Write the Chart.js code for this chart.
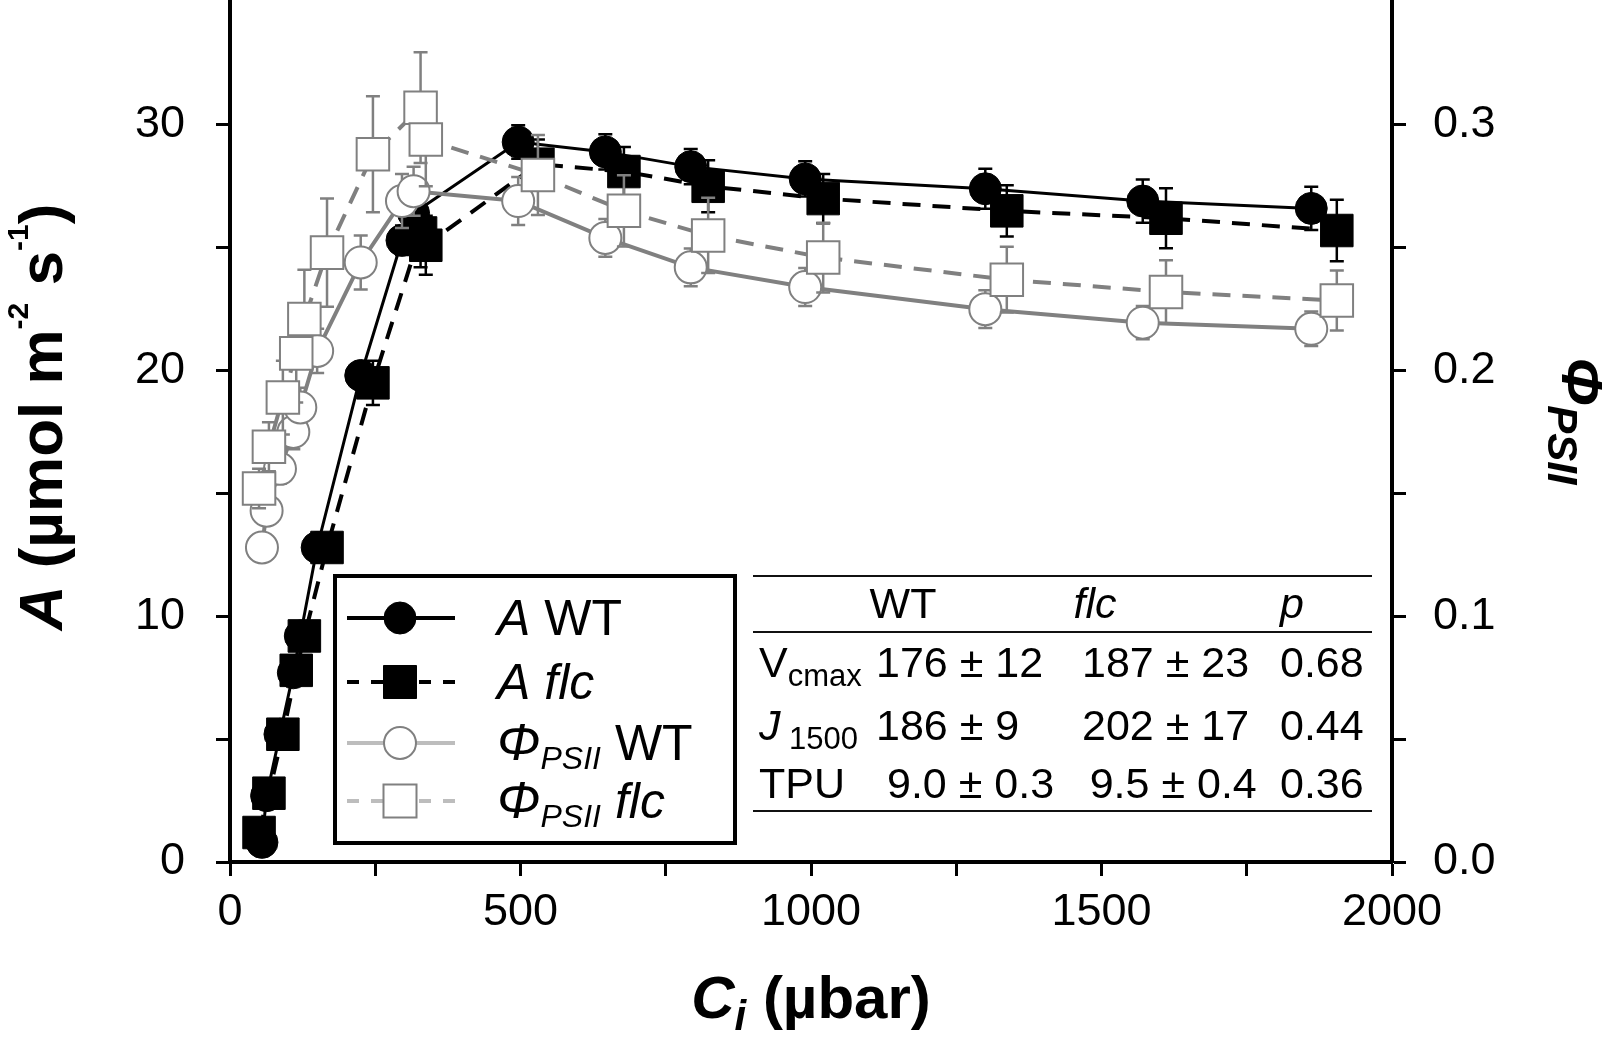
<!DOCTYPE html>
<html>
<head>
<meta charset="utf-8">
<script src="https://cdn.jsdelivr.net/npm/chart.js@4.4.1/dist/chart.umd.min.js"></script>
<style>
html,body{margin:0;padding:0;background:#fff;}
canvas{display:block;}
</style>
</head>
<body>
<canvas id="c" width="1624" height="1038"></canvas>
<script>
// ---------------- data ----------------
const ciWT   = [55, 63, 86, 109, 121, 150, 225, 296, 316, 496, 646, 793, 990, 1300, 1571, 1861];
const aWT    = [0.8, 2.7, 5.2, 7.7, 9.2, 12.8, 19.8, 25.3, 26.4, 29.3, 28.9, 28.3, 27.8, 27.4, 26.9, 26.6];
const aWTse  = [0.1, 0.2, 0.2, 0.3, 0.3, 0.3, 0.5, 0.6, 0.7, 0.68, 0.72, 0.72, 0.72, 0.81, 0.88, 0.88];
const phiWT  = [0.128, 0.143, 0.160, 0.175, 0.185, 0.208, 0.244, 0.269, 0.273, 0.269, 0.254, 0.242, 0.234, 0.225, 0.2195, 0.217];
const phiWTse= [0.005, 0.005, 0.006, 0.007, 0.008, 0.009, 0.011, 0.011, 0.010, 0.0098, 0.0077, 0.0077, 0.0077, 0.0077, 0.0068, 0.007];

const ciFLC   = [50, 67, 91, 114, 128, 167, 246, 328, 337, 530, 678, 823, 1021, 1337, 1611, 1905];
const aFLC    = [1.2, 2.8, 5.2, 7.8, 9.2, 12.8, 19.5, 25.6, 25.1, 28.4, 28.1, 27.5, 27.0, 26.5, 26.2, 25.7];
const aFLCse  = [0.2, 0.2, 0.3, 0.3, 0.4, 0.4, 0.9, 1.4, 1.2, 1.0, 1.0, 1.06, 1.0, 1.04, 1.22, 1.25];
const phiFLC  = [0.152, 0.169, 0.189, 0.207, 0.221, 0.248, 0.288, 0.307, 0.294, 0.2796, 0.265, 0.255, 0.246, 0.237, 0.232, 0.2285];
const phiFLCse= [0.008, 0.010, 0.015, 0.020, 0.020, 0.022, 0.0236, 0.0225, 0.019, 0.0163, 0.0145, 0.0153, 0.0142, 0.0134, 0.0129, 0.0122];

const seriesVar   = ['A', 'A', 'Φ', 'Φ'];
const seriesSub   = ['', '', 'PSII', 'PSII'];
const seriesGroup = ['WT', 'flc', 'WT', 'flc'];

const xTickLabels  = [0, 500, 1000, 1500, 2000];
const yTickLabels  = [0, 10, 20, 30];
const y2TickLabels = ['0.0', '0.1', '0.2', '0.3'];

const tableHead = ['WT', 'flc', 'p'];
const tableRowMain = ['V', 'J', 'TPU'];
const tableRowSub  = ['cmax', ' 1500', ''];
const tableWT  = ['176 ± 12', '186 ± 9', '9.0 ± 0.3'];
const tableFLC = ['187 ± 23', '202 ± 17', '9.5 ± 0.4'];
const tableP   = ['0.68', '0.44', '0.36'];

// ---------------- styling ----------------
const FAM = '"Liberation Sans", Arial, Helvetica, sans-serif';
const F = (style, size) => `${style} ${size}px ${FAM}`;
const GREY = '#808080';
const LEG_GREY = '#bdbdbd';

const pts = (xs, ys) => xs.map((x, i) => ({x: x, y: ys[i]}));

const datasets = [
  {label: 'A WT', data: pts(ciWT, aWT), errors: aWTse, errColor: '#000', yAxisID: 'y',
   borderColor: '#000', borderWidth: 3, pointStyle: 'circle', pointRadius: 16,
   pointBackgroundColor: '#000', pointBorderColor: '#000', pointBorderWidth: 1, order: 4, legendLine: '#000'},
  {label: 'A flc', data: pts(ciFLC, aFLC), errors: aFLCse, errColor: '#000', yAxisID: 'y',
   borderColor: '#000', borderWidth: 4, borderDash: [18, 12], pointStyle: 'rect', pointRadius: 23,
   pointBackgroundColor: '#000', pointBorderColor: '#000', pointBorderWidth: 1, order: 3, legendLine: '#000'},
  {label: 'Φ WT', data: pts(ciWT, phiWT), errors: phiWTse, errColor: GREY, yAxisID: 'y2',
   borderColor: GREY, borderWidth: 4, pointStyle: 'circle', pointRadius: 16,
   pointBackgroundColor: '#fff', pointBorderColor: GREY, pointBorderWidth: 2, order: 2, legendLine: LEG_GREY},
  {label: 'Φ flc', data: pts(ciFLC, phiFLC), errors: phiFLCse, errColor: GREY, yAxisID: 'y2',
   borderColor: GREY, borderWidth: 4, borderDash: [18, 12], pointStyle: 'rect', pointRadius: 23,
   pointBackgroundColor: '#fff', pointBorderColor: GREY, pointBorderWidth: 2, order: 1, legendLine: LEG_GREY}
];
datasets.forEach(d => { d.showLine = true; d.tension = 0; d.fill = false; });

// ---------------- helpers ----------------
function runsWidth(ctx, parts) {
  let w = 0;
  for (const p of parts) { ctx.font = p.f; w += ctx.measureText(p.t).width; }
  return w;
}
function drawRuns(ctx, parts, x, y) {
  let cx = x;
  for (const p of parts) {
    ctx.font = p.f;
    ctx.fillText(p.t, cx, y + (p.dy || 0));
    cx += ctx.measureText(p.t).width;
  }
}

// error bars drawn just before each dataset
const errorBars = {
  id: 'errorBars',
  beforeDatasetDraw(chart, args) {
    const ds = chart.data.datasets[args.index];
    if (!ds.errors) return;
    const ctx = chart.ctx, xs = chart.scales.x, ys = chart.scales[ds.yAxisID];
    ctx.save();
    ctx.strokeStyle = ds.errColor;
    ctx.lineWidth = 2.5;
    ctx.setLineDash([]);
    const cap = 7;
    ds.data.forEach((p, i) => {
      const e = ds.errors[i];
      const px = xs.getPixelForValue(p.x);
      const yt = ys.getPixelForValue(p.y + e);
      const yb = ys.getPixelForValue(p.y - e);
      ctx.beginPath();
      ctx.moveTo(px, yt); ctx.lineTo(px, yb);
      ctx.moveTo(px - cap, yt); ctx.lineTo(px + cap, yt);
      ctx.moveTo(px - cap, yb); ctx.lineTo(px + cap, yb);
      ctx.stroke();
    });
    ctx.restore();
  }
};

// titles, legend and table
const annotations = {
  id: 'annotations',
  afterDraw(chart) {
    const ctx = chart.ctx;
    const ca = chart.chartArea;
    ctx.save();
    ctx.fillStyle = '#000';
    ctx.textBaseline = 'alphabetic';
    ctx.textAlign = 'left';

    // x title
    const xt = [
      {t: 'C', f: F('italic bold', 60)},
      {t: 'i', f: F('italic bold', 42), dy: 12},
      {t: ' (µbar)', f: F('bold', 60)}
    ];
    const xw = runsWidth(ctx, xt);
    drawRuns(ctx, xt, (ca.left + ca.right) / 2 - xw / 2, 1018);

    // left y title
    const yt = [
      {t: 'A', f: F('italic bold', 62)},
      {t: ' (µmol m', f: F('bold', 62)},
      {t: '-2', f: F('bold', 30), dy: -34},
      {t: ' s', f: F('bold', 62)},
      {t: '-1', f: F('bold', 30), dy: -34},
      {t: ')', f: F('bold', 62)}
    ];
    const yw = runsWidth(ctx, yt);
    ctx.save();
    ctx.translate(62, 417);
    ctx.rotate(-Math.PI / 2);
    drawRuns(ctx, yt, -yw / 2, 0);
    ctx.restore();

    // right y title
    const rt = [
      {t: 'Φ', f: F('italic bold', 58)},
      {t: 'PSII', f: F('italic bold', 42), dy: 14}
    ];
    const rw = runsWidth(ctx, rt);
    ctx.save();
    ctx.translate(1562, 421);
    ctx.rotate(Math.PI / 2);
    drawRuns(ctx, rt, -rw / 2, 0);
    ctx.restore();

    // legend box
    const L = {x0: 335, y0: 576, x1: 735, y1: 843};
    ctx.fillStyle = '#fff';
    ctx.fillRect(L.x0, L.y0, L.x1 - L.x0, L.y1 - L.y0);
    ctx.strokeStyle = '#000';
    ctx.lineWidth = 4;
    ctx.strokeRect(L.x0, L.y0, L.x1 - L.x0, L.y1 - L.y0);
    const rowY = [618, 682, 743, 801];
    chart.data.datasets.forEach((ds, i) => {
      const y = rowY[i];
      ctx.save();
      ctx.strokeStyle = ds.legendLine;
      ctx.lineWidth = 4;
      ctx.setLineDash(ds.borderDash ? [12, 12] : []);
      ctx.beginPath(); ctx.moveTo(347, y); ctx.lineTo(455, y); ctx.stroke();
      ctx.setLineDash([]);
      ctx.fillStyle = ds.pointBackgroundColor;
      ctx.strokeStyle = ds.pointBorderColor;
      ctx.lineWidth = ds.pointBorderWidth;
      ctx.beginPath();
      if (ds.pointStyle === 'circle') {
        ctx.arc(400, y, 16, 0, Math.PI * 2);
      } else {
        ctx.rect(400 - 16.5, y - 16.5, 33, 33);
      }
      ctx.fill(); ctx.stroke();
      ctx.restore();
      ctx.fillStyle = '#000';
      const parts = [];
      if (seriesSub[i]) {
        parts.push({t: seriesVar[i], f: F('italic', 52)});
        parts.push({t: seriesSub[i], f: F('italic', 32), dy: 9});
      } else {
        parts.push({t: seriesVar[i], f: F('italic', 50)});
      }
      parts.push({t: ' ', f: F('normal', 50)});
      parts.push({t: seriesGroup[i], f: F(seriesGroup[i] === 'WT' ? 'normal' : 'italic', 50)});
      drawRuns(ctx, parts, 497, y + 17);
    });

    // table
    ctx.strokeStyle = '#111';
    ctx.lineWidth = 2;
    [576, 632, 811].forEach(yy => {
      ctx.beginPath(); ctx.moveTo(753, yy); ctx.lineTo(1372, yy); ctx.stroke();
    });
    ctx.fillStyle = '#000';
    ctx.font = F('normal', 43);
    ctx.textAlign = 'center';
    ctx.fillText(tableHead[0], 903, 618);
    ctx.font = F('italic', 43);
    ctx.fillText(tableHead[1], 1095, 618);
    ctx.textAlign = 'left';
    ctx.fillText(tableHead[2], 1280, 618);
    const rowBase = [677, 740, 798];
    const indent = [0, 0, 11];
    for (let r = 0; r < 3; r++) {
      const yb = rowBase[r];
      const lab = [{t: tableRowMain[r], f: F(tableRowMain[r] === 'J' ? 'italic' : 'normal', 43)}];
      if (tableRowSub[r]) lab.push({t: tableRowSub[r], f: F('normal', 31), dy: 9});
      drawRuns(ctx, lab, 759, yb);
      ctx.font = F('normal', 43);
      ctx.fillText(tableWT[r], 876 + indent[r], yb);
      ctx.fillText(tableFLC[r], 1082 + indent[r] * 0.7, yb);
      ctx.fillText(tableP[r], 1280, yb);
    }
    ctx.restore();
  }
};

// ---------------- chart ----------------
const tickFont = {family: FAM, size: 45};
new Chart(document.getElementById('c'), {
  type: 'scatter',
  data: {datasets: datasets},
  options: {
    responsive: false,
    devicePixelRatio: 1,
    animation: false,
    layout: {autoPadding: false, padding: {top: 2, left: 0, right: 0, bottom: 0}},
    plugins: {legend: {display: false}, tooltip: {enabled: false}},
    scales: {
      x: {
        type: 'linear', position: 'bottom', min: 0, max: 2000,
        ticks: {stepSize: 250, autoSkip: false, maxRotation: 0, font: tickFont, color: '#000', padding: 10,
                callback: v => xTickLabels.includes(v) ? String(v) : ''},
        grid: {drawOnChartArea: false, drawTicks: true, tickLength: 14, tickWidth: 3, tickColor: '#000'},
        border: {display: true, color: '#000', width: 4},
        afterFit: s => { s.height = 176; s.paddingLeft = 0; s.paddingRight = 0; }
      },
      y: {
        type: 'linear', position: 'left', min: 0, max: 35,
        ticks: {stepSize: 5, autoSkip: false, font: tickFont, color: '#000', padding: 31,
                callback: v => yTickLabels.includes(v) ? String(v) : ''},
        grid: {drawOnChartArea: false, drawTicks: true, tickLength: 14, tickWidth: 3,
               tickColor: c => (c.tick && c.tick.value >= 35) ? 'rgba(0,0,0,0)' : '#000'},
        border: {display: true, color: '#000', width: 4},
        afterFit: s => { s.width = 230; s.paddingTop = 0; s.paddingBottom = 0; }
      },
      y2: {
        type: 'linear', position: 'right', min: 0, max: 0.35,
        ticks: {stepSize: 0.05, autoSkip: false, font: tickFont, color: '#000', padding: 27,
                callback: v => { const s = v.toFixed(2); return y2TickLabels.includes(v.toFixed(1)) && s.endsWith('0') ? v.toFixed(1) : ''; }},
        grid: {drawOnChartArea: false, drawTicks: true, tickLength: 14, tickWidth: 3,
               tickColor: c => (c.tick && c.tick.value >= 0.349) ? 'rgba(0,0,0,0)' : '#000'},
        border: {display: true, color: '#000', width: 4},
        afterFit: s => { s.width = 232; s.paddingTop = 0; s.paddingBottom = 0; }
      }
    }
  },
  plugins: [errorBars, annotations]
});
</script>
</body>
</html>
